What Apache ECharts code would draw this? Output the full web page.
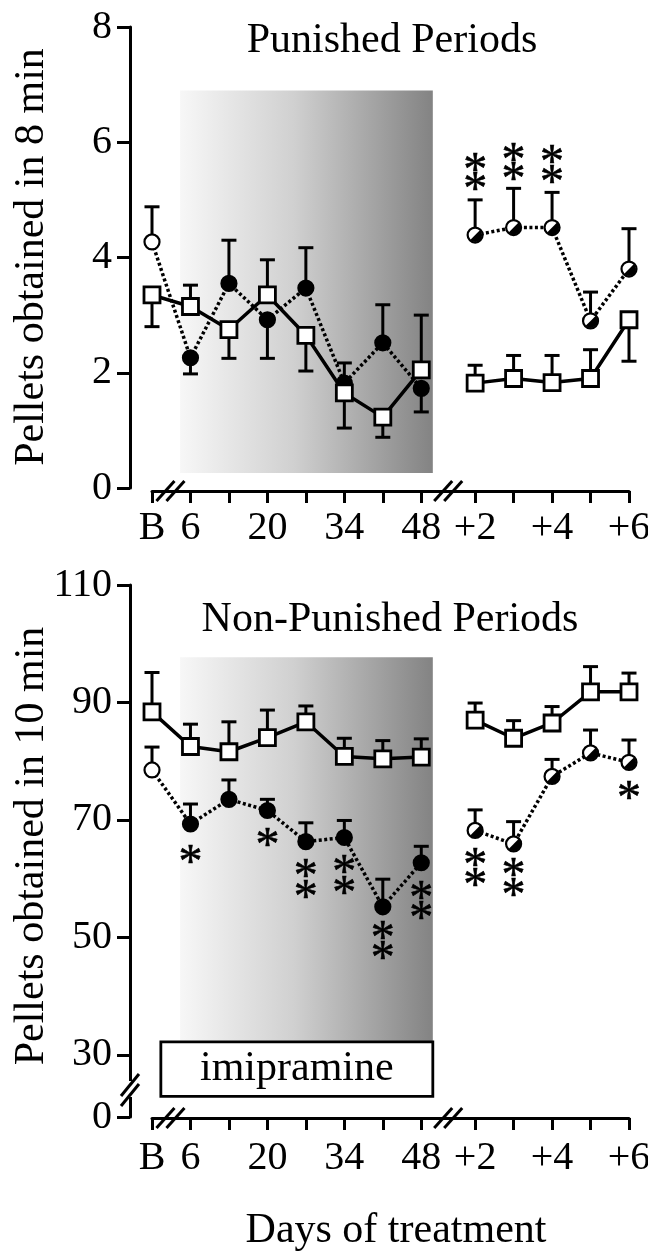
<!DOCTYPE html>
<html>
<head>
<meta charset="utf-8">
<script src="https://cdn.jsdelivr.net/npm/echarts@6/dist/echarts.min.js"></script>
<style>
  html, body { margin: 0; padding: 0; background: #fff; }
  #main { width: 648px; height: 1251px; }
</style>
</head>
<body>
<div id="main"></div>
<script>
// days on the x axis (B = baseline, +n = days after withdrawal)
var days = ['B', '6', '13', '20', '27', '34', '41', '48', '+2', '+3', '+4', '+5', '+6'];
var dayLabels = ['B', '6', '20', '34', '48', '+2', '+4', '+6'];

// punished periods, pellets in 8 min (mean and end of the error bar)
var punVehicle    = [3.35, 3.15, 2.75, 3.35, 2.65, 1.65, 1.23, 2.05, 1.82, 1.90, 1.83, 1.90, 2.92];
var punVehicleErr = [2.80, 3.52, 2.25, 3.96, 2.03, 1.04, 0.88, 3.00, 2.13, 2.30, 2.30, 2.40, 2.20];
var punImi        = [4.27, 2.26, 3.55, 2.92, 3.47, 1.82, 2.52, 1.73, 4.39, 4.52, 4.52, 2.90, 3.80];
var punImiErr     = [4.88, 1.98, 4.30, 2.25, 4.17, 2.17, 3.18, 1.32, 5.00, 5.20, 5.13, 3.40, 4.50];
var punStars = [[8, 5.64], [8, 5.31], [9, 5.80], [9, 5.47], [10, 5.78], [10, 5.43]];

// non-punished periods, pellets in 10 min
var nonVehicle    = [88.4, 82.5, 81.6, 84.0, 86.7, 80.8, 80.4, 80.7, 87.0, 83.9, 86.5, 91.8, 91.8];
var nonVehicleErr = [95.1, 86.3, 86.7, 88.7, 89.4, 83.9, 83.5, 83.8, 89.9, 86.9, 89.3, 96.1, 95.0];
var nonImi        = [78.5, 69.3, 73.5, 71.6, 66.3, 67.0, 55.2, 62.7, 68.2, 65.9, 77.4, 81.4, 79.8];
var nonImiErr     = [82.4, 72.7, 76.8, 73.5, 69.5, 69.9, 59.9, 65.5, 71.7, 69.7, 80.3, 85.3, 83.6];
var nonStars = [[1, 63.9], [3, 66.8], [4, 61.5], [4, 58.0], [5, 62.2], [5, 58.6],
                [6, 51.0], [6, 47.6], [7, 57.8], [7, 54.4], [8, 63.5], [8, 60.1],
                [9, 61.8], [9, 58.4], [12, 74.8]];

var topTicks = [0, 2, 4, 6, 8];
var bottomTicks = [0, 30, 50, 70, 90, 110];

var FONT = '"Liberation Serif", "Times New Roman", serif';
var breakGap = 0.4;        // extra room between day 48 and +2
var bottomFloor = 19.4;    // where the "0" of the broken axis sits

function pos(i) { return i < 8 ? i : i + breakGap; }
var xMax = pos(days.length - 1);

function pairs(values, from, to) {
  var out = [];
  for (var i = from; i < to; i++) out.push([pos(i), values[i]]);
  return out;
}
function errData(values, ends) {
  return values.map(function (v, i) { return [pos(i), v, ends[i]]; });
}

function renderErr(params, api) {
  var a = api.coord([api.value(0), api.value(1)]);
  var b = api.coord([api.value(0), api.value(2)]);
  var st = { stroke: '#000', lineWidth: 3 };
  return { type: 'group', children: [
    { type: 'line', shape: { x1: a[0], y1: a[1], x2: b[0], y2: b[1] }, style: st },
    { type: 'line', shape: { x1: b[0] - 7.5, y1: b[1], x2: b[0] + 7.5, y2: b[1] }, style: st }
  ]};
}
function renderHalf(params, api) {
  var c = api.coord([api.value(0), api.value(1)]);
  return { type: 'sector', shape: { cx: c[0], cy: c[1], r: 7, r0: 0,
    startAngle: -Math.PI / 4, endAngle: Math.PI * 3 / 4, clockwise: true },
    style: { fill: '#000' } };
}
function renderStar(params, api) {
  var c = api.coord([pos(api.value(0)), api.value(1)]);
  return { type: 'text', x: c[0], y: c[1] + 9,
    style: { text: '*', font: '48px ' + FONT, fill: '#000', stroke: '#000', lineWidth: 0.6,
      align: 'center', verticalAlign: 'middle' } };
}

function xAxisFor(grid, offset, margin) {
  return {
    type: 'value', gridIndex: grid, min: 0, max: xMax, offset: offset,
    splitLine: { show: false },
    axisLine: { show: true, onZero: false, lineStyle: { color: '#000', width: 3 } },
    axisTick: { show: true, length: 12, lineStyle: { color: '#000', width: 3 },
      customValues: days.map(function (d, i) { return pos(i); }) },
    axisLabel: { color: '#000', fontFamily: FONT, fontSize: 40, margin: margin,
      customValues: dayLabels.map(function (d) { return pos(days.indexOf(d)); }),
      formatter: function (v) {
        for (var i = 0; i < days.length; i++) if (Math.abs(pos(i) - v) < 0.01) return days[i];
        return '';
      } }
  };
}
function yAxisFor(grid, opts) {
  var ax = {
    type: 'value', gridIndex: grid, offset: 22,
    splitLine: { show: false },
    axisLine: { show: true, onZero: false, lineStyle: { color: '#000', width: 3 } },
    axisTick: { show: true, length: 13, lineStyle: { color: '#000', width: 3 } },
    axisLabel: { color: '#000', fontFamily: FONT, fontSize: 40, margin: 18 }
  };
  return echarts.util.merge(ax, opts, true);
}

var shade = {
  type: 'linear', x: 0, y: 0, x2: 1, y2: 0,
  colorStops: [{ offset: 0, color: '#f7f7f7' }, { offset: 0.45, color: '#d0d0d0' }, { offset: 1, color: '#838383' }]
};

function panel(g, veh, vehErr, imi, imiErr, stars, shadeBox) {
  var lineVeh = { color: '#000', width: 3.5 };
  var lineImi = { color: '#000', width: 3.5, type: [3, 2.5] };
  var sq = { type: 'line', xAxisIndex: g, yAxisIndex: g, symbol: 'rect', symbolSize: 16,
    itemStyle: { color: '#fff', borderColor: '#000', borderWidth: 2.8 }, lineStyle: lineVeh, z: 6, clip: false, silent: true };
  var ci = { type: 'line', xAxisIndex: g, yAxisIndex: g, symbol: 'circle', symbolSize: 15,
    itemStyle: { color: '#000', borderColor: '#000', borderWidth: 2.2 }, lineStyle: lineImi, z: 4, clip: false, silent: true };
  var imiPre = pairs(imi, 0, 8).map(function (p, i) {
    return i === 0 ? { value: p, itemStyle: { color: '#fff' } } : p;
  });
  var imiPost = pairs(imi, 8, 13).map(function (p) { return { value: p, itemStyle: { color: '#fff' } }; });
  return [
    { type: 'line', xAxisIndex: g, yAxisIndex: g, data: [], z: 1, silent: true,
      markArea: { silent: true, itemStyle: { color: shade }, data: [[{ coord: shadeBox[0] }, { coord: shadeBox[1] }]] } },
    { type: 'custom', xAxisIndex: g, yAxisIndex: g, renderItem: renderErr, data: errData(imi, imiErr), z: 3, clip: false, silent: true },
    { type: 'custom', xAxisIndex: g, yAxisIndex: g, renderItem: renderErr, data: errData(veh, vehErr), z: 3, clip: false, silent: true },
    echarts.util.merge({ data: imiPre }, ci),
    echarts.util.merge({ data: imiPost }, ci),
    { type: 'custom', xAxisIndex: g, yAxisIndex: g, renderItem: renderHalf, data: pairs(imi, 8, 13), z: 5, clip: false, silent: true },
    echarts.util.merge({ data: pairs(veh, 0, 8) }, sq),
    echarts.util.merge({ data: pairs(veh, 8, 13) }, sq),
    { type: 'custom', xAxisIndex: g, yAxisIndex: g, renderItem: renderStar, data: stars, z: 7, clip: false, silent: true }
  ];
}

var series = []
  .concat(panel(0, punVehicle, punVehicleErr, punImi, punImiErr, punStars, [[0.73, 6.9], [7.3, 0.26]]))
  .concat(panel(1, nonVehicle, nonVehicleErr, nonImi, nonImiErr, nonStars, [[0.73, 97.7], [7.3, 32]]));

// the drug label box at the foot of the shaded period
series.push({ type: 'line', xAxisIndex: 1, yAxisIndex: 1, data: [], z: 2, silent: true,
  markArea: { silent: true,
    itemStyle: { color: '#fff', borderColor: '#000', borderWidth: 2.8 },
    label: { show: true, position: 'inside', color: '#000', fontFamily: FONT, fontSize: 42 },
    data: [[{ name: 'imipramine', coord: [0.23, 32.2] }, { coord: [7.3, 22.9] }]] } });

function textAt(str, x, y, rot) {
  return { type: 'text', x: x, y: y, rotation: rot || 0,
    style: { text: str, font: '42px ' + FONT, fill: '#000', align: 'center', verticalAlign: 'middle' } };
}

var option = {
  backgroundColor: '#fff',
  animation: false,
  grid: [
    { left: 152, top: 27, width: 477, height: 461, outerBoundsMode: 'none' },
    { left: 152, top: 585, width: 477, height: 532, outerBoundsMode: 'none' }
  ],
  xAxis: [xAxisFor(0, 3, 17), xAxisFor(1, 1, 20)],
  yAxis: [
    yAxisFor(0, { min: 0, max: 8, interval: 2 }),
    yAxisFor(1, {
      min: bottomFloor, max: 110,
      axisTick: { customValues: bottomTicks.map(function (t) { return t === 0 ? bottomFloor : t; }) },
      axisLabel: { customValues: bottomTicks.map(function (t) { return t === 0 ? bottomFloor : t; }),
        formatter: function (v) { return v < 25 ? '0' : String(v); } }
    })
  ],
  graphic: [
    textAt('Punished Periods', 392, 41),
    textAt('Non-Punished Periods', 390, 620),
    textAt('Days of treatment', 396, 1231),
    textAt('Pellets obtained in 8 min', 32, 257, Math.PI / 2),
    textAt('Pellets obtained in 10 min', 32, 846, Math.PI / 2)
  ],
  series: series
};

var chart = echarts.init(document.getElementById('main'));
chart.setOption(option);

// axis break marks (//) on both x axes and on the lower y axis
function slashPair(cx, cy, horizontalAxis) {
  return [-5, 5].map(function (d) {
    var shape = horizontalAxis
      ? { x1: cx + d - 9, y1: cy + 10, x2: cx + d + 9, y2: cy - 10 }
      : { x1: cx - 9, y1: cy + d + 11, x2: cx + 9, y2: cy + d - 11 };
    return { type: 'line', shape: shape, style: { stroke: '#000', lineWidth: 3 }, z: 100 };
  });
}
var extra = [];
[[0, 3], [1, 1]].forEach(function (g) {
  var y = chart.convertToPixel({ gridIndex: g[0] }, [0, g[0] === 0 ? 0 : bottomFloor])[1] + g[1];
  [0.48, 7.7].forEach(function (xv) {
    var x = chart.convertToPixel({ gridIndex: g[0] }, [xv, 0])[0];
    extra = extra.concat(slashPair(x, y, true));
  });
});
var axX = chart.convertToPixel({ gridIndex: 1 }, [0, 0])[0] - 22;
var brY = chart.convertToPixel({ gridIndex: 1 }, [0, 24])[1];
extra.push({ type: 'rect', shape: { x: axX - 3, y: brY - 9, width: 6, height: 16 }, style: { fill: '#fff' }, z: 99 });
extra = extra.concat(slashPair(axX, brY, false));
chart.setOption({ graphic: option.graphic.concat(extra) });
</script>
</body>
</html>
